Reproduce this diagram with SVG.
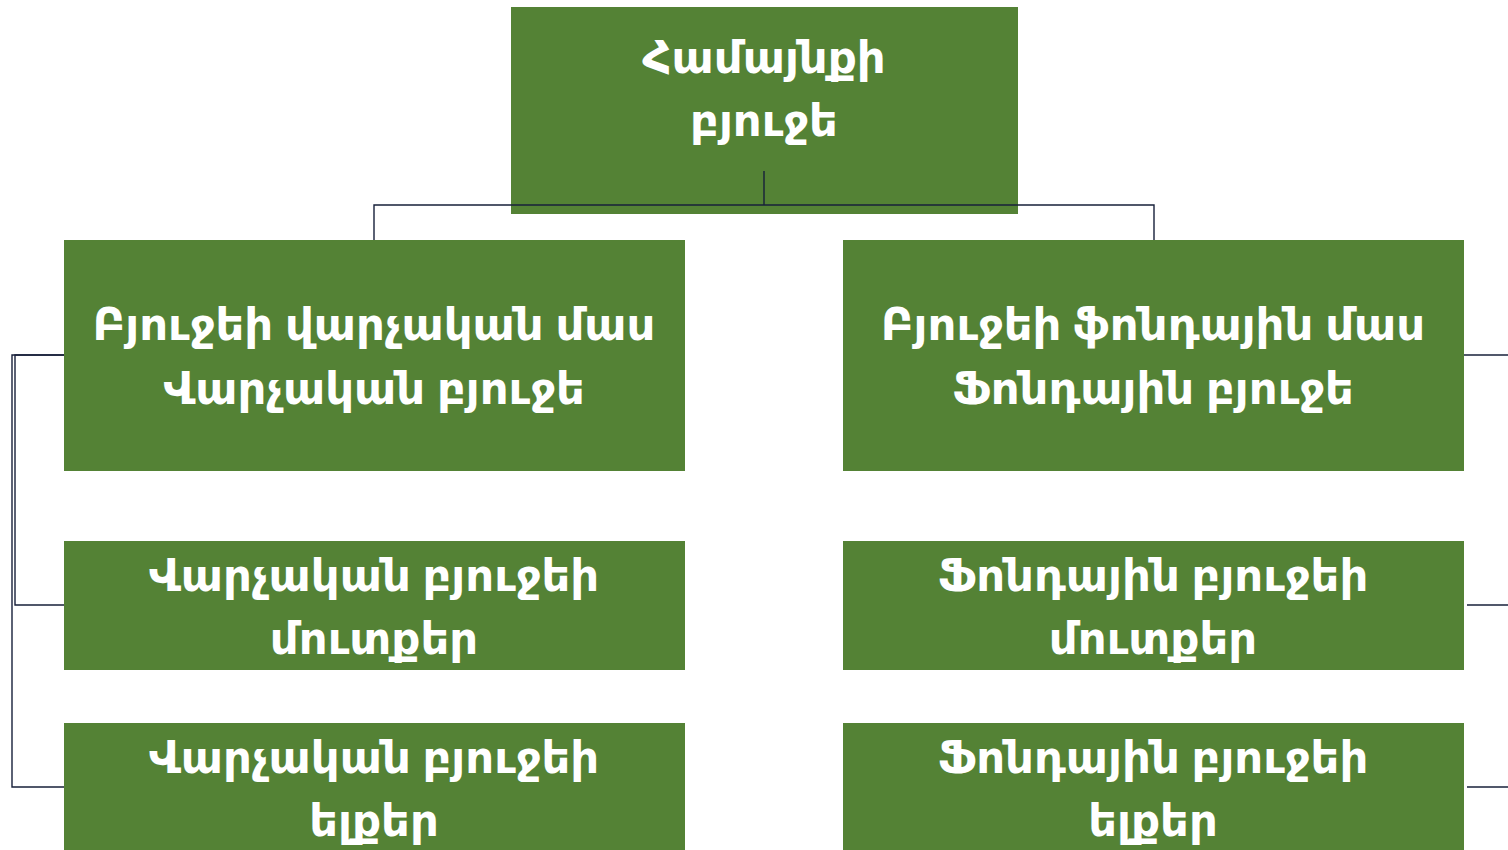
<svg xmlns="http://www.w3.org/2000/svg" width="1508" height="850" viewBox="0 0 1508 850">
<style>
.box{fill:#548235}
.t{fill:#ffffff;font-family:"Noto Sans","DejaVu Sans",sans-serif;font-weight:bold;font-size:45px;text-anchor:middle}
.c{fill:none;stroke:#17203a;stroke-width:1.4}
</style>
<rect width="1508" height="850" fill="#ffffff"/>
<g id="n0"><rect class="box" x="511" y="7" width="507" height="207"/>
<text class="t" x="764" y="73">Համայնքի</text><text class="t" x="764" y="136">բյուջե</text></g>
<g id="n1"><rect class="box" x="64" y="240" width="621" height="231"/>
<text class="t" x="374" y="340">Բյուջեի վարչական մաս</text><text class="t" x="374" y="404">Վարչական բյուջե</text></g>
<g id="n2"><rect class="box" x="843" y="240" width="621" height="231"/>
<text class="t" x="1153" y="340">Բյուջեի ֆոնդային մաս</text><text class="t" x="1153" y="404">Ֆոնդային բյուջե</text></g>
<g id="n3"><rect class="box" x="64" y="541" width="621" height="129"/>
<text class="t" x="374" y="591">Վարչական բյուջեի</text><text class="t" x="374" y="654">մուտքեր</text></g>
<g id="n4"><rect class="box" x="64" y="723" width="621" height="127"/>
<text class="t" x="374" y="773">Վարչական բյուջեի</text><text class="t" x="374" y="836">ելքեր</text></g>
<g id="n5"><rect class="box" x="843" y="541" width="621" height="129"/>
<text class="t" x="1153" y="591">Ֆոնդային բյուջեի</text><text class="t" x="1153" y="654">մուտքեր</text></g>
<g id="n6"><rect class="box" x="843" y="723" width="621" height="127"/>
<text class="t" x="1153" y="773">Ֆոնդային բյուջեի</text><text class="t" x="1153" y="836">ելքեր</text></g>
<g id="connectors">
<path class="c" d="M764,171 V205 M374,240 V205 H1154 V240"/>
<path class="c" d="M64,355 H12 V787 H64"/>
<path class="c" d="M64,355 H15 V605 H64"/>
<path class="c" d="M1464,355 H1508"/>
<path class="c" d="M1467,605 H1508"/>
<path class="c" d="M1467,787 H1508"/>
</g>
</svg>
